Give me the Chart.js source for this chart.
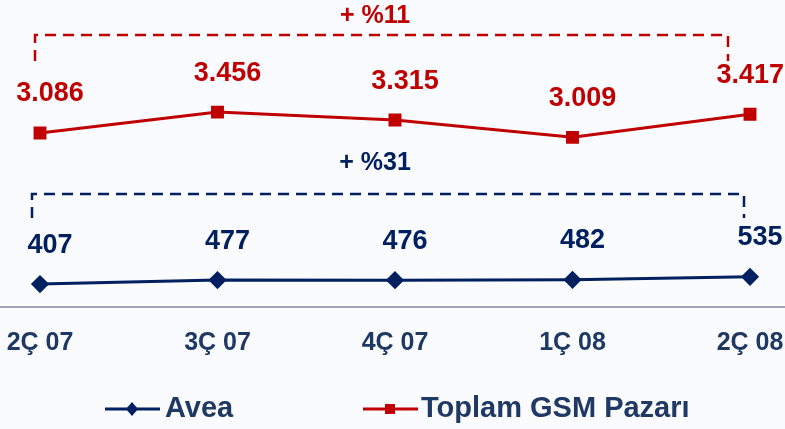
<!DOCTYPE html>
<html>
<head>
<meta charset="utf-8">
<script src="https://cdn.jsdelivr.net/npm/chart.js@4"></script>
<style>
  html, body { margin: 0; padding: 0; background: #fafbfe; }
  #wrap { width: 785px; height: 429px; }
</style>
</head>
<body>
<div id="wrap"><canvas id="chart" width="785" height="429"></canvas></div>
<script>
const quarters = ['2Ç 07', '3Ç 07', '4Ç 07', '1Ç 08', '2Ç 08'];
const avea = [407, 477, 476, 482, 535];
const toplamGsm = [3086, 3456, 3315, 3009, 3417];
const seriesNames = ['Avea', 'Toplam GSM Pazarı'];
const growthLabels = ['+ %31', '+ %11'];

const NAVY = '#002060';
const RED = '#c00000';
const TEXT_NAVY = '#1f3864';
const narrow = '"Liberation Sans Narrow", "Arial Narrow", "Liberation Sans", Arial, sans-serif';
const wide = '"Liberation Sans", Arial, sans-serif';

// sayıları 3.086 biçiminde yaz
function fmt(v) {
  return v.toLocaleString('de-DE');
}

// değer etiketleri, artış parantezleri, eksen çizgisi ve lejant
const overlay = {
  id: 'overlay',
  afterDatasetsDraw(chart) {
    const ctx = chart.ctx;
    const area = chart.chartArea;
    ctx.save();

    // alt eksen çizgisi
    ctx.strokeStyle = '#a4a6b4';
    ctx.lineWidth = 2;
    ctx.beginPath();
    ctx.moveTo(0, area.bottom);
    ctx.lineTo(chart.width, area.bottom);
    ctx.stroke();

    // değer etiketleri
    ctx.font = 'bold 27px ' + wide;
    ctx.textAlign = 'center';
    ctx.textBaseline = 'middle';
    chart.data.datasets.forEach((ds, di) => {
      const meta = chart.getDatasetMeta(di);
      ctx.fillStyle = ds.borderColor;
      meta.data.forEach((pt, i) => {
        const txt = fmt(ds.data[i]);
        const w = ctx.measureText(txt).width;
        let x = pt.x + 10;
        x = Math.min(x, chart.width - w / 2 - 1);
        ctx.fillText(txt, x, pt.y - 39);
      });
    });

    // artış parantezleri
    const brackets = [
      { di: 0, y: 194, x0: 32, x1: 744, drop: 24, ty: 163 },
      { di: 1, y: 35, x0: 35, x1: 728, drop: 26, ty: 16 }
    ];
    brackets.forEach(b => {
      const color = chart.data.datasets[b.di].borderColor;
      ctx.strokeStyle = color;
      ctx.lineWidth = 2.5;
      ctx.setLineDash([11, 7]);
      ctx.beginPath();
      ctx.moveTo(b.x0, b.y + b.drop);
      ctx.lineTo(b.x0, b.y);
      ctx.lineTo(b.x1, b.y);
      ctx.lineTo(b.x1, b.y + b.drop);
      ctx.stroke();
      ctx.setLineDash([]);
      ctx.fillStyle = color;
      ctx.font = 'bold 25px ' + wide;
      ctx.fillText(growthLabels[b.di], 375, b.ty);
    });

    // lejant
    const items = [
      { di: 0, lx: 105, tx: 165 },
      { di: 1, lx: 363, tx: 421 }
    ];
    const ly = 409;
    items.forEach(it => {
      const ds = chart.data.datasets[it.di];
      ctx.strokeStyle = ds.borderColor;
      ctx.lineWidth = 3;
      ctx.beginPath();
      ctx.moveTo(it.lx, ly);
      ctx.lineTo(it.lx + 55, ly);
      ctx.stroke();
      ctx.fillStyle = ds.borderColor;
      const cx = it.lx + 27;
      if (ds.pointStyle === 'rectRot') {
        ctx.beginPath();
        ctx.moveTo(cx, ly - 7);
        ctx.lineTo(cx + 6, ly);
        ctx.lineTo(cx, ly + 7);
        ctx.lineTo(cx - 6, ly);
        ctx.closePath();
        ctx.fill();
      } else {
        ctx.fillRect(cx - 5, ly - 5, 10, 10);
      }
      ctx.fillStyle = TEXT_NAVY;
      ctx.font = 'bold 29px ' + narrow;
      ctx.textAlign = 'left';
      ctx.fillText(ds.label, it.tx, ly);
      ctx.textAlign = 'center';
    });

    ctx.restore();
  }
};

new Chart(document.getElementById('chart'), {
  type: 'line',
  data: {
    labels: quarters,
    datasets: [
      {
        label: seriesNames[0],
        data: avea,
        borderColor: NAVY,
        backgroundColor: NAVY,
        borderWidth: 3,
        pointStyle: 'rectRot',
        pointRadius: 7,
        pointHoverRadius: 7,
        tension: 0
      },
      {
        label: seriesNames[1],
        data: toplamGsm,
        borderColor: RED,
        backgroundColor: RED,
        borderWidth: 3,
        pointStyle: 'rect',
        pointRadius: 7,
        pointHoverRadius: 7,
        tension: 0
      }
    ]
  },
  options: {
    responsive: false,
    animation: false,
    events: [],
    layout: { padding: { top: 0, left: 40, right: 35, bottom: 0 } },
    plugins: {
      legend: { display: false },
      tooltip: { enabled: false }
    },
    scales: {
      x: {
        grid: { display: false, drawTicks: false },
        border: { display: false },
        ticks: {
          color: TEXT_NAVY,
          font: { family: narrow, size: 25, weight: 'bold' },
          padding: 21,
          maxRotation: 0
        },
        afterFit(scale) {
          scale.height = 122;
          scale.paddingLeft = 0;
          scale.paddingRight = 0;
        }
      },
      y: {
        display: false,
        min: 0,
        max: 5267
      }
    }
  },
  plugins: [overlay]
});
</script>
</body>
</html>
